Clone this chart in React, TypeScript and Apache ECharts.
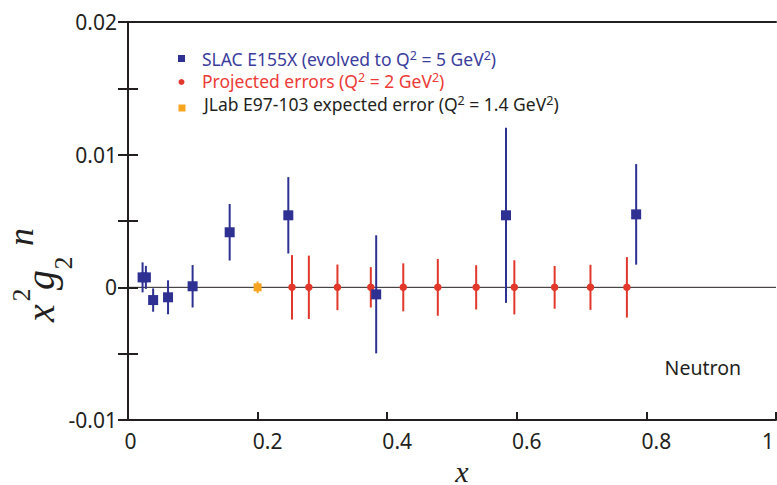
import React, { useEffect, useRef } from "react";
import * as echarts from "echarts";

// SLAC E155X neutron points (evolved to Q^2 = 5 GeV^2): x, x^2 g2n, error
const slacX = [0.0225, 0.0276, 0.0388, 0.0618, 0.0997, 0.1569, 0.2474, 0.383, 0.5833, 0.7842];
const slacY = [0.00075, 0.00075, -0.00096, -0.00075, 0.00008, 0.00415, 0.00543, -0.00053, 0.00543, 0.0055];
const slacErr = [0.00113, 0.00087, 0.00088, 0.00128, 0.0016, 0.00213, 0.00288, 0.00445, 0.0066, 0.00379];

// Projected errors (Q^2 = 2 GeV^2), plotted on zero
const projX = [0.2531, 0.2791, 0.3232, 0.3747, 0.4248, 0.4781, 0.5373, 0.5962, 0.6584, 0.7137, 0.7699];
const projY = [0, 0, 0, 0, 0, 0, 0, 0, 0, 0, 0];
const projErr = [0.00243, 0.00239, 0.00172, 0.00152, 0.00181, 0.00214, 0.00167, 0.00204, 0.00161, 0.0017, 0.00228];

// JLab E97-103 expected error (Q^2 = 1.4 GeV^2)
const jlabX = [0.2];
const jlabY = [0];
const jlabErr = [0.00044];

// Axes
const xMin = 0;
const xMax = 1;
const yMin = -0.01;
const yMax = 0.02;
const xTickLabels = ["0", "0.2", "0.4", "0.6", "0.8", "1"];
const yTickLabels = ["-0.01", "0", "0.01", "0.02"];

const BLUE = "#2e3192";
const RED = "#e2382c";
const ORANGE = "#f7a51f";
const INK = "#231f20";
const SANS = '"Noto Sans", "Open Sans", sans-serif';
const SERIF = '"Liberation Serif", "DejaVu Serif", serif';

function errorBars(name: string, xs: number[], ys: number[], es: number[], color: string, z: number) {
  return {
    type: "custom",
    name,
    z,
    silent: true,
    data: xs.map((x, i) => [x, ys[i], es[i]]),
    encode: { x: 0, y: 1 },
    renderItem: (_params: any, api: any) => {
      const x = api.value(0);
      const y = api.value(1);
      const e = api.value(2);
      const top = api.coord([x, y + e]);
      const bot = api.coord([x, y - e]);
      return {
        type: "line",
        shape: { x1: top[0], y1: top[1], x2: bot[0], y2: bot[1] },
        style: { stroke: color, lineWidth: 2 },
      };
    },
  };
}

function markers(name: string, xs: number[], ys: number[], symbol: string, size: number, color: string, z: number) {
  return {
    type: "scatter",
    name,
    z,
    silent: true,
    symbol,
    symbolSize: size,
    itemStyle: { color, opacity: 1 },
    data: xs.map((x, i) => [x, ys[i]]),
  };
}

// Legend line; the "s" pieces are raised superscripts (top-aligned in the line box)
function legendText(x: number, y: number, parts: string, color: string) {
  return {
    type: "text",
    x,
    y,
    style: {
      text: parts,
      fill: color,
      fontFamily: SANS,
      fontSize: 17.5,
      lineHeight: 19,
      align: "left",
      verticalAlign: "middle",
      rich: {
        n: { fontFamily: SANS, fontSize: 17.5, lineHeight: 19, fill: color, verticalAlign: "bottom" },
        s: { fontFamily: SANS, fontSize: 12.5, lineHeight: 19, fill: color, verticalAlign: "top" },
      },
    },
  };
}

// Pieces of the y-axis title x^2 g_2^n, set along the axis
const yTitleParts = [
  { t: "x", x: 40, y: 313, size: 40, italic: true },
  { t: "2", x: 21, y: 295, size: 26, italic: false },
  { t: "g", x: 40, y: 280, size: 40, italic: true },
  { t: "2", x: 63, y: 263, size: 26, italic: false },
  { t: "n", x: 21, y: 237, size: 36, italic: true },
];

export default function App() {
  const ref = useRef<HTMLDivElement>(null);

  useEffect(() => {
    if (!ref.current) return;
    const chart = echarts.init(ref.current, undefined, { renderer: "svg" });

    const option: any = {
      animation: false,
      backgroundColor: "#ffffff",
      grid: { left: 128, top: 22, right: -3, bottom: 65, containLabel: false },
      xAxis: [
        {
          type: "value",
          min: xMin,
          max: xMax,
          interval: 0.2,
          position: "bottom",
          axisLine: { show: true, onZero: false, lineStyle: { color: INK, width: 2 } },
          axisTick: { show: true, inside: true, length: 8, lineStyle: { color: INK, width: 2 } },
          splitLine: { show: false },
          axisLabel: {
            margin: 10,
            color: INK,
            fontFamily: SANS,
            fontSize: 21,
            formatter: (v: number) => {
              const k = Math.round(v * 5);
              const s = xTickLabels[k];
              if (k === 0) return "{z|" + s + "}";
              if (k === 5) return "{e|" + s + "}";
              return "{m|" + s + "}";
            },
            rich: {
              z: { fontFamily: SANS, fontSize: 21, color: INK, padding: [0, 0, 0, 5] },
              m: { fontFamily: SANS, fontSize: 21, color: INK, padding: [0, 0, 0, 20] },
              e: { fontFamily: SANS, fontSize: 21, color: INK, padding: [0, 16, 0, 0] },
            },
          },
        },
        {
          type: "value",
          min: xMin,
          max: xMax,
          position: "top",
          axisLine: { show: true, onZero: false, lineStyle: { color: INK, width: 2 } },
          axisTick: { show: false },
          axisLabel: { show: false },
          splitLine: { show: false },
        },
      ],
      yAxis: [
        {
          type: "value",
          min: yMin,
          max: yMax,
          interval: 0.005,
          position: "left",
          axisLine: { show: true, onZero: false, lineStyle: { color: INK, width: 2 } },
          axisTick: { show: true, inside: true, length: 10, lineStyle: { color: INK, width: 2 } },
          splitLine: { show: false },
          axisLabel: {
            margin: 11,
            color: INK,
            fontFamily: SANS,
            fontSize: 21,
            formatter: (v: number) => {
              const k = Math.round(v * 100);
              if (Math.abs(v * 100 - k) > 1e-6) return "";
              return yTickLabels[k + 1];
            },
          },
        },
        {
          type: "value",
          min: yMin,
          max: yMax,
          interval: 0.005,
          position: "right",
          axisLine: { show: false },
          axisTick: { show: true, inside: true, length: 10, lineStyle: { color: INK, width: 2 } },
          axisLabel: { show: false },
          splitLine: { show: false },
        },
      ],
      series: [
        {
          type: "line",
          name: "zero",
          z: 1,
          silent: true,
          symbol: "none",
          lineStyle: { color: INK, width: 1 },
          data: [
            [xMin, 0],
            [xMax, 0],
          ],
        },
        errorBars("Projected errors", projX, projY, projErr, RED, 2),
        markers("Projected errors", projX, projY, "circle", 7.5, RED, 3),
        errorBars("JLab E97-103", jlabX, jlabY, jlabErr, ORANGE, 2),
        markers("JLab E97-103", jlabX, jlabY, "rect", 8, ORANGE, 3),
        errorBars("SLAC E155X", slacX, slacY, slacErr, BLUE, 4),
        markers("SLAC E155X", slacX, slacY, "rect", 10, BLUE, 5),
      ],
      graphic: [
        // legend
        { type: "rect", shape: { x: 178, y: 55, width: 7, height: 7 }, style: { fill: BLUE } },
        { type: "circle", shape: { cx: 181.5, cy: 82, r: 3 }, style: { fill: RED } },
        { type: "rect", shape: { x: 178.5, y: 104.5, width: 7, height: 7 }, style: { fill: ORANGE } },
        legendText(202, 58.5, "{n|SLAC E155X (evolved to Q}{s|2}{n| = 5 GeV}{s|2}{n|)}", "#3b3d9c"),
        legendText(202, 80.5, "{n|Projected errors (Q}{s|2}{n| = 2 GeV}{s|2}{n|)}", "#ec3b36"),
        legendText(204, 103.5, "{n|JLab E97-103 expected error (Q}{s|2}{n| = 1.4 GeV}{s|2}{n|)}", INK),
        // panel label
        {
          type: "text",
          x: 741,
          y: 367,
          style: {
            text: "Neutron",
            fill: INK,
            fontFamily: SANS,
            fontSize: 19.5,
            align: "right",
            verticalAlign: "middle",
          },
        },
        // x-axis title
        {
          type: "text",
          x: 462,
          y: 471,
          style: {
            text: "x",
            fill: INK,
            fontFamily: SERIF,
            fontStyle: "italic",
            fontSize: 30,
            lineHeight: 16,
            align: "center",
            verticalAlign: "middle",
          },
        },
        // y-axis title
        ...yTitleParts.map((p) => ({
          type: "text",
          x: p.x,
          y: p.y,
          rotation: Math.PI / 2,
          style: {
            text: p.t,
            fill: INK,
            fontFamily: SERIF,
            fontStyle: p.italic ? "italic" : "normal",
            fontSize: p.size,
            lineHeight: Math.round(p.size * 0.6),
            align: "center",
            verticalAlign: "middle",
          },
        })),
      ],
    };

    chart.setOption(option);
    return () => chart.dispose();
  }, []);

  return (
    <div
      ref={ref}
      style={{ position: "fixed", left: 0, top: 0, width: 777, height: 485, background: "#fff" }}
    />
  );
}
